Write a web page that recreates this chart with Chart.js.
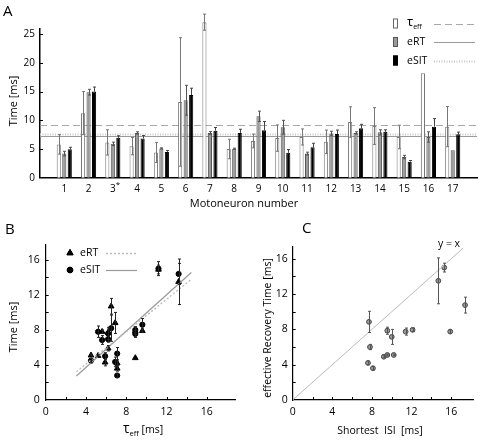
<!DOCTYPE html>
<html>
<head>
<meta charset="utf-8">
<script src="https://cdn.jsdelivr.net/npm/chart.js@4.4.0/dist/chart.umd.min.js"></script>
<style>
  body { margin: 0; background: #fff; }
  #lienzo { position: relative; width: 478px; height: 443px; }
  canvas { position: absolute; }
</style>
</head>
<body>
<div id="lienzo">
  <canvas id="graficoA" width="478" height="215" style="left:0;top:0"></canvas>
  <canvas id="graficoB" width="240" height="228" style="left:0;top:215px"></canvas>
  <canvas id="graficoC" width="238" height="228" style="left:240px;top:215px"></canvas>
</div>
<script>
// panel A: barras por motoneurona
const motoneuronas = ["1","2","3","4","5","6","7","8","9","10","11","12","13","14","15","16","17"];
const tauEff    = [5.8, 11.25, 6.15, 5.5, 4.4, 13.2, 27.1, 5.0, 6.4, 6.9, 7.1, 6.25, 9.7, 9.0, 7.1, 18.2, 8.9];
const tauErr    = [1.7, 3.75, 2.2, 1.5, 1.75, 11.2, 1.4, 1.7, 1.2, 2.3, 1.4, 2.05, 2.65, 3.2, 2.05, 0, 3.5];
const eRT       = [4.2, 14.9, 5.9, 7.8, 5.1, 13.5, 7.8, 5.05, 10.7, 8.8, 4.2, 7.7, 7.8, 7.9, 3.6, 7.1, 4.8];
const eRTErr    = [0.4, 0.5, 0.3, 0.2, 0.1, 2.6, 0.25, 0.1, 0.9, 1.2, 0.25, 0.4, 0.2, 0.45, 0.3, 0.9, 0];
const eSIT      = [4.95, 15.0, 6.95, 6.85, 4.5, 14.4, 8.2, 7.8, 8.25, 4.35, 5.3, 7.6, 8.6, 8.0, 2.8, 8.9, 7.55];
const eSITErr   = [0.35, 0.8, 0.35, 0.5, 0.25, 1.2, 0.55, 0.65, 1.55, 0.55, 0.7, 0.7, 0.7, 0.35, 0.2, 1.4, 0.4];
const mediaTau = 9.1, mediaERT = 7.35, mediaESIT = 7.6;
const ticksA = [0, 5, 10, 15, 20, 25];

// panel B: eRT / eSIT contra tau_eff
const tauB     = [5.9, 11.2, 6.2, 5.6, 4.5, 13.2, 5.2, 6.5, 6.9, 7.1, 6.2, 9.6, 8.9, 7.1, 8.9];
const ertB     = [4.3, 14.9, 5.9, 7.8, 5.1, 13.5, 5.05, 10.7, 8.8, 4.2, 7.7, 7.9, 7.9, 3.6, 4.8];
const ertErrB  = [0.4, 0.5, 0.3, 0.2, 0.1, 2.6, 0.1, 0.9, 1.2, 0.25, 0.4, 0.2, 0.45, 0.3, 0];
const esitB    = [5.0, 15.0, 6.95, 6.85, 4.5, 14.4, 7.8, 8.2, 4.35, 5.3, 7.6, 8.6, 8.0, 2.8, 7.55];
const esitErrB = [0.4, 0.8, 0.35, 0.5, 0.25, 1.2, 0.65, 1.5, 0.55, 0.7, 0.7, 0.7, 0.35, 0.2, 0.4];
const ajusteX     = [3.05, 14.46];
const ajusteERTy  = [3.23, 13.76];
const ajusteESITy = [2.74, 14.56];
const ticksBC = [0, 4, 8, 12, 16];
const menoresBC = [2, 6, 10, 14];

// panel C: eRT contra ISI mas corto
const isiC    = [7.7, 7.8, 7.6, 8.1, 9.2, 9.55, 10.2, 9.55, 10.0, 11.4, 12.1, 14.7, 15.3, 15.9, 17.4];
const ertC    = [8.85, 6.0, 4.2, 3.6, 4.9, 5.1, 5.1, 7.85, 7.15, 7.75, 7.95, 13.5, 15.0, 7.75, 10.75];
const ertErrC = [1.2, 0.3, 0.2, 0.2, 0.1, 0.1, 0.1, 0.4, 0.85, 0.4, 0.2, 2.6, 0.5, 0.2, 0.9];
const diagonal = [0, 17.2];

const FUENTE = "'Open Sans', sans-serif";
Chart.defaults.font.family = FUENTE;
Chart.defaults.color = "#000";

const puntos = (xs, ys) => xs.map((x, i) => ({ x: Number(x), y: ys[i] }));

// barras de error (usa la escala y del grafico)
const barrasError = {
  id: "barrasError",
  afterDatasetsDraw(chart) {
    const ctx = chart.ctx, ey = chart.scales.y;
    chart.data.datasets.forEach((ds, i) => {
      if (!ds.errY) return;
      const meta = chart.getDatasetMeta(i);
      ctx.save();
      ctx.strokeStyle = ds.colorError || "#444";
      ctx.lineWidth = 1;
      const c = ds.anchoTapa || 1.5;
      meta.data.forEach((el, j) => {
        const e = ds.errY[j];
        if (!e) return;
        const v = ds.data[j].y;
        const x = Math.round(el.x) + 0.5;
        const arriba = ey.getPixelForValue(v + e);
        const abajo = ds.soloArriba ? el.y : ey.getPixelForValue(v - e);
        ctx.beginPath();
        ctx.moveTo(x, arriba); ctx.lineTo(x, abajo);
        ctx.moveTo(x - c, arriba); ctx.lineTo(x + c, arriba);
        if (!ds.soloArriba) { ctx.moveTo(x - c, abajo); ctx.lineTo(x + c, abajo); }
        ctx.stroke();
      });
      ctx.restore();
    });
  }
};

// marcas hacia dentro de los ejes
function marcasInternas(yVals, xVals, largo) {
  return {
    id: "marcas",
    afterDraw(chart) {
      const ctx = chart.ctx, a = chart.chartArea;
      ctx.save();
      ctx.strokeStyle = "#000";
      ctx.lineWidth = 1;
      ctx.beginPath();
      yVals.forEach(v => {
        const y = Math.round(chart.scales.y.getPixelForValue(v)) + 0.5;
        ctx.moveTo(a.left, y); ctx.lineTo(a.left + largo, y);
      });
      xVals.forEach(v => {
        const x = Math.round(chart.scales.x.getPixelForValue(v)) + 0.5;
        ctx.moveTo(x, a.bottom); ctx.lineTo(x, a.bottom - largo);
      });
      ctx.stroke();
      ctx.restore();
    }
  };
}

function textoGirado(ctx, txt, x, y, tam) {
  ctx.save();
  ctx.translate(x, y);
  ctx.rotate(-Math.PI / 2);
  ctx.font = tam + "px " + FUENTE;
  ctx.textAlign = "center";
  ctx.textBaseline = "middle";
  ctx.fillText(txt, 0, 0);
  ctx.restore();
}

function tauTexto(ctx, x, y, grande, chico, resto, centrado) {
  ctx.save();
  ctx.textBaseline = "alphabetic";
  ctx.textAlign = "left";
  ctx.font = grande + "px " + FUENTE;
  const w1 = ctx.measureText("τ").width;
  ctx.font = chico + "px " + FUENTE;
  const w2 = ctx.measureText("eff").width;
  ctx.font = (resto ? resto.tam : grande) + "px " + FUENTE;
  const w3 = resto ? ctx.measureText(resto.txt).width : 0;
  let x0 = centrado ? x - (w1 + w2 + w3) / 2 : x;
  ctx.font = grande + "px " + FUENTE;
  ctx.fillText("τ", x0, y);
  ctx.font = chico + "px " + FUENTE;
  ctx.fillText("eff", x0 + w1, y + 3);
  if (resto) {
    ctx.font = resto.tam + "px " + FUENTE;
    ctx.fillText(resto.txt, x0 + w1 + w2, y);
  }
  ctx.restore();
}

function linea(ctx, x1, y1, x2, y2, color, ancho, guiones) {
  ctx.save();
  ctx.strokeStyle = color;
  ctx.lineWidth = ancho;
  ctx.setLineDash(guiones || []);
  ctx.beginPath();
  ctx.moveTo(x1, y1); ctx.lineTo(x2, y2);
  ctx.stroke();
  ctx.restore();
}

const estiloMedias = {
  tau:  { color: "#a8a8a8", ancho: 1.2, guiones: [7, 4] },
  ert:  { color: "#9a9a9a", ancho: 1, guiones: [] },
  esit: { color: "#c8c8c8", ancho: 2, guiones: [1, 1.5] }
};

const sinRejilla = { display: false, drawTicks: false };

// ---------- Panel A ----------
const lineasMedias = {
  id: "lineasMedias",
  beforeDatasetsDraw(chart) {
    const ctx = chart.ctx, a = chart.chartArea, ey = chart.scales.y;
    [[mediaTau, estiloMedias.tau], [mediaERT, estiloMedias.ert], [mediaESIT, estiloMedias.esit]].forEach(([v, s]) => {
      const y = Math.round(ey.getPixelForValue(v)) + 0.5;
      linea(ctx, a.left, y, a.right, y, s.color, s.ancho, s.guiones);
    });
  }
};

const decoradoA = {
  id: "decoradoA",
  afterDraw(chart) {
    const ctx = chart.ctx, ex = chart.scales.x;
    ctx.save();
    ctx.fillStyle = "#000";
    ctx.font = "15px " + FUENTE;
    ctx.textBaseline = "middle";
    ctx.fillText("A", 3, 12);
    textoGirado(ctx, "Time [ms]", 14, 101, 11);
    ctx.font = "11px " + FUENTE;
    ctx.textAlign = "center";
    ctx.fillText("Motoneuron number", 244, 204);
    ctx.font = "8px " + FUENTE;
    ctx.fillText("*", ex.getPixelForValue(3) + 5, 185);
    // leyenda
    const filas = [
      { y: 23.5, fondo: "#fff", borde: "#666", s: estiloMedias.tau },
      { y: 42, fondo: "#9a9a9a", borde: "#555", s: estiloMedias.ert },
      { y: 60.5, fondo: "#000", borde: "#000", s: estiloMedias.esit }
    ];
    filas.forEach(f => {
      ctx.fillStyle = f.fondo;
      ctx.strokeStyle = f.borde;
      ctx.lineWidth = 1;
      ctx.fillRect(393, f.y - 5, 5, 10);
      ctx.strokeRect(393.5, f.y - 4.5, 4, 9);
      linea(ctx, 434, Math.round(f.y) + 0.5, 475, Math.round(f.y) + 0.5, f.s.color, f.s.ancho, f.s.guiones);
    });
    ctx.fillStyle = "#000";
    tauTexto(ctx, 407, 26, 13, 7, null, false);
    ctx.font = "10.5px " + FUENTE;
    ctx.textAlign = "left";
    ctx.textBaseline = "middle";
    ctx.fillText("eRT", 407, 42.5);
    ctx.fillText("eSIT", 407, 61);
    ctx.restore();
  }
};

new Chart(document.getElementById("graficoA"), {
  type: "bar",
  data: {
    datasets: [
      { label: "τeff", data: puntos(motoneuronas, tauEff), errY: tauErr, colorError: "#777",
        backgroundColor: "#fff", borderColor: "#777", borderWidth: 1, clip: false },
      { label: "eRT", data: puntos(motoneuronas, eRT), errY: eRTErr, colorError: "#555",
        backgroundColor: "#9a9a9a", borderColor: "#555", borderWidth: 1, clip: false },
      { label: "eSIT", data: puntos(motoneuronas, eSIT), errY: eSITErr, colorError: "#444", soloArriba: true,
        backgroundColor: "#000", borderColor: "#000", borderWidth: 1, clip: false }
    ]
  },
  options: {
    responsive: false,
    animation: false,
    layout: { padding: { top: 28.5, right: 1, left: 0, bottom: 4.3 } },
    categoryPercentage: 0.68,
    barPercentage: 0.75,
    plugins: { legend: { display: false }, tooltip: { enabled: false } },
    scales: {
      x: {
        type: "linear", min: 0, max: 18, offset: false,
        grid: sinRejilla,
        border: { display: true, color: "#000", width: 1.5 },
        ticks: { font: { size: 10 }, padding: 5, maxRotation: 0, autoSkip: false },
        afterBuildTicks: s => { s.ticks = motoneuronas.map(m => ({ value: Number(m) })); },
        afterFit: s => { s.height = 33; }
      },
      y: {
        min: 0, max: 26,
        grid: sinRejilla,
        border: { display: true, color: "#000", width: 1.5 },
        ticks: { font: { size: 10 }, padding: 5 },
        afterBuildTicks: s => { s.ticks = ticksA.map(v => ({ value: v })); },
        afterFit: s => { s.width = 40; }
      }
    }
  },
  plugins: [lineasMedias, barrasError, marcasInternas(ticksA.slice(1), [], 3), decoradoA]
});

// ---------- Panel B ----------
const decoradoB = {
  id: "decoradoB",
  afterDraw(chart) {
    const ctx = chart.ctx;
    ctx.save();
    ctx.fillStyle = "#000";
    ctx.font = "15px " + FUENTE;
    ctx.textBaseline = "middle";
    ctx.fillText("B", 5, 15);
    textoGirado(ctx, "Time [ms]", 14, 112, 11);
    tauTexto(ctx, 143, 218, 14, 7.5, { txt: " [ms]", tam: 10.5 }, true);
    // leyenda
    Chart.helpers.drawPoint(ctx, { pointStyle: "triangle", radius: 3.5, borderWidth: 1 }, 70, 38);
    ctx.fill(); ctx.stroke();
    Chart.helpers.drawPoint(ctx, { pointStyle: "circle", radius: 2.8, borderWidth: 1 }, 70, 55);
    ctx.fill(); ctx.stroke();
    ctx.font = "10.5px " + FUENTE;
    ctx.textAlign = "left";
    ctx.fillText("eRT", 80, 38);
    ctx.fillText("eSIT", 80, 55.5);
    linea(ctx, 106, 38.5, 137, 38.5, "#bbb", 1.3, [2, 2]);
    linea(ctx, 106, 55.5, 137, 55.5, "#999", 1.2, []);
    ctx.restore();
  }
};

new Chart(document.getElementById("graficoB"), {
  type: "scatter",
  data: {
    datasets: [
      { label: "ajuste eRT", type: "line", data: puntos(ajusteX, ajusteERTy), showLine: true,
        borderColor: "#bbb", borderWidth: 1.3, borderDash: [2, 2], pointRadius: 0 },
      { label: "ajuste eSIT", type: "line", data: puntos(ajusteX, ajusteESITy), showLine: true,
        borderColor: "#999", borderWidth: 1.2, pointRadius: 0 },
      { label: "eRT", data: puntos(tauB, ertB), errY: ertErrB, colorError: "#222",
        pointStyle: "triangle", pointRadius: 3.3, backgroundColor: "#000", borderColor: "#000", borderWidth: 1 },
      { label: "eSIT", data: puntos(tauB, esitB), errY: esitErrB, colorError: "#222",
        pointStyle: "circle", pointRadius: 2.6, backgroundColor: "#000", borderColor: "#000", borderWidth: 1 }
    ]
  },
  options: {
    responsive: false,
    animation: false,
    layout: { padding: { top: 30, right: 3.3, left: 0, bottom: 0 } },
    plugins: { legend: { display: false }, tooltip: { enabled: false } },
    scales: {
      x: {
        type: "linear", min: 0, max: 18.8,
        grid: sinRejilla,
        border: { display: true, color: "#000", width: 1.2 },
        ticks: { font: { size: 10.5 }, padding: 6 },
        afterBuildTicks: s => { s.ticks = ticksBC.map(v => ({ value: v })); },
        afterFit: s => { s.height = 43; }
      },
      y: {
        min: 0, max: 17.7,
        grid: sinRejilla,
        border: { display: true, color: "#000", width: 1.2 },
        ticks: { font: { size: 10.5 }, padding: 6 },
        afterBuildTicks: s => { s.ticks = ticksBC.map(v => ({ value: v })); },
        afterFit: s => { s.width = 45.7; }
      }
    }
  },
  plugins: [barrasError, marcasInternas(ticksBC.slice(1).concat(menoresBC), ticksBC.slice(1).concat(menoresBC), 3), decoradoB]
});

// ---------- Panel C ----------
const decoradoC = {
  id: "decoradoC",
  afterDraw(chart) {
    const ctx = chart.ctx;
    ctx.save();
    ctx.fillStyle = "#000";
    ctx.font = "15px " + FUENTE;
    ctx.textBaseline = "middle";
    ctx.fillText("C", 62, 14);
    textoGirado(ctx, "effective Recovery Time [ms]", 28, 113, 10.5);
    ctx.font = "10.5px " + FUENTE;
    ctx.textAlign = "center";
    ctx.fillText("Shortest  ISI  [ms]", 140, 216);
    ctx.fillText("y = x", 209, 29);
    ctx.restore();
  }
};

new Chart(document.getElementById("graficoC"), {
  type: "scatter",
  data: {
    datasets: [
      { label: "y = x", type: "line", data: puntos(diagonal, diagonal), showLine: true,
        borderColor: "#bbb", borderWidth: 1, pointRadius: 0 },
      { label: "eRT", data: puntos(isiC, ertC), errY: ertErrC, colorError: "#555",
        pointStyle: "circle", pointRadius: 2.4, backgroundColor: "#999", borderColor: "#444", borderWidth: 1 }
    ]
  },
  options: {
    responsive: false,
    animation: false,
    layout: { padding: { top: 31.4, right: 2.6, left: 0, bottom: 0 } },
    plugins: { legend: { display: false }, tooltip: { enabled: false } },
    scales: {
      x: {
        type: "linear", min: 0, max: 18.2,
        grid: sinRejilla,
        border: { display: true, color: "#000", width: 1.2 },
        ticks: { font: { size: 10.5 }, padding: 6 },
        afterBuildTicks: s => { s.ticks = ticksBC.map(v => ({ value: v })); },
        afterFit: s => { s.height = 43; }
      },
      y: {
        min: 0, max: 17.4,
        grid: sinRejilla,
        border: { display: true, color: "#000", width: 1.2 },
        ticks: { font: { size: 10.5 }, padding: 5 },
        afterBuildTicks: s => { s.ticks = ticksBC.map(v => ({ value: v })); },
        afterFit: s => { s.width = 52.7; }
      }
    }
  },
  plugins: [barrasError, marcasInternas(ticksBC.slice(1).concat(menoresBC), ticksBC.slice(1).concat(menoresBC), 3), decoradoC]
});
</script>
</body>
</html>
